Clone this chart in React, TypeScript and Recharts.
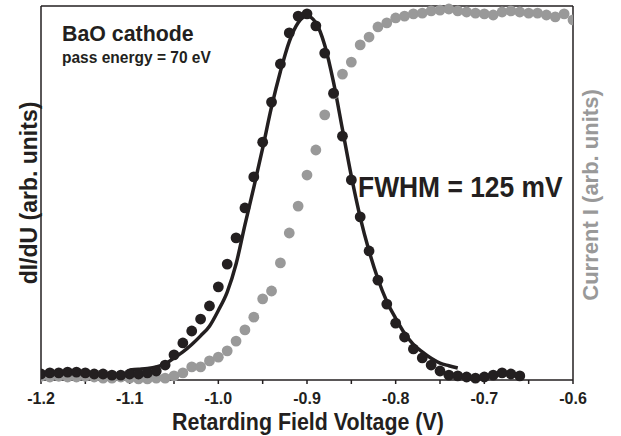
import {
  ComposedChart,
  Scatter,
  Line,
  XAxis,
  YAxis,
  ReferenceLine,
} from 'recharts';

const FONT = "'Liberation Sans', Arial, Helvetica, sans-serif";
const INK = '#231f20';
const GREY = '#999999';

// x ticks every 50 mV, labels only on the 100 mV ones
const voltTicks = [-1.2, -1.15, -1.1, -1.05, -1.0, -0.95, -0.9, -0.85, -0.8, -0.75, -0.7, -0.65, -0.6];

// dI/dU measured points (black)
const dIdUVolts = [
  -1.2, -1.19, -1.18, -1.17, -1.16, -1.15, -1.14, -1.13, -1.12, -1.11, -1.1, -1.09, -1.08, -1.07,
  -1.06, -1.05, -1.04, -1.03, -1.02, -1.01, -1.0, -0.99, -0.98, -0.97, -0.96, -0.95, -0.94, -0.93,
  -0.92, -0.91, -0.9, -0.89, -0.88, -0.87, -0.86, -0.85, -0.84, -0.83, -0.82, -0.81, -0.8, -0.79,
  -0.78, -0.77, -0.76, -0.75, -0.74, -0.73, -0.72, -0.71, -0.7, -0.69, -0.68, -0.67, -0.66,
];
const dIdUVals = [
  1.6, 1.9, 1.9, 2.1, 2.1, 1.9, 1.6, 1.6, 1.3, 1.3, 1.6, 1.6, 1.9, 2.4,
  4.0, 6.7, 9.9, 13.1, 16.3, 19.8, 24.9, 31.0, 38.0, 46.0, 54.3, 63.6, 74.3, 84.5,
  92.8, 97.3, 97.9, 94.7, 87.4, 76.7, 65.2, 53.5, 43.6, 34.5, 26.7, 20.3, 15.2, 11.5,
  8.3, 5.9, 4.0, 2.4, 1.3, 1.1, 0.8, 0.5, 0.8, 1.3, 1.9, 1.6, 1.1,
];

// current I (grey)
const currentVolts = [
  -1.2, -1.19, -1.18, -1.17, -1.16, -1.15, -1.14, -1.13, -1.12, -1.11, -1.1, -1.09, -1.08, -1.07,
  -1.06, -1.05, -1.04, -1.03, -1.02, -1.01, -1.0, -0.99, -0.98, -0.97, -0.96, -0.95, -0.94, -0.93,
  -0.92, -0.91, -0.9, -0.89, -0.88, -0.87, -0.86, -0.85, -0.84, -0.83, -0.82, -0.81, -0.8, -0.79,
  -0.78, -0.77, -0.76, -0.75, -0.74, -0.73, -0.72, -0.71, -0.7, -0.69, -0.68, -0.67, -0.66, -0.65,
  -0.64, -0.63, -0.62, -0.61, -0.6,
];
const currentVals = [
  1.0, 0.8, 1.0, 0.8, 0.8, 1.0, 0.8, 0.5, 0.5, 0.8, 0.5, 0.3, 0.3, 0.5,
  0.5, 1.1, 1.9, 3.5, 3.5, 5.1, 6.1, 7.8, 10.4, 13.4, 16.8, 21.7, 23.8, 31.3,
  39.3, 46.5, 54.8, 61.5, 70.9, 76.5, 81.8, 85.0, 89.6, 91.7, 94.4, 95.5, 96.8, 97.3,
  97.9, 98.1, 98.7, 98.9, 99.2, 98.7, 98.4, 98.1, 97.9, 97.6, 98.4, 98.7, 98.4, 98.1,
  98.1, 97.6, 97.1, 97.9, 96.3,
];

// gaussian fit
const fitVolts = [
  -1.1, -1.09, -1.08, -1.07, -1.06, -1.05, -1.04, -1.03, -1.02, -1.01, -1.0, -0.99, -0.98,
  -0.97, -0.96, -0.95, -0.94, -0.93, -0.92, -0.91, -0.9, -0.89, -0.88, -0.87, -0.86, -0.85,
  -0.84, -0.83, -0.82, -0.81, -0.8, -0.79, -0.78, -0.77, -0.76, -0.75, -0.74, -0.73,
];
const fitVals = [
  2.7, 2.9, 3.1, 3.5, 4.3, 5.9, 7.5, 9.5, 11.8, 14.4, 18.6, 23.5, 31.0,
  41.5, 51.5, 62.0, 73.0, 82.5, 90.5, 95.5, 97.3, 95.5, 89.5, 79.5, 67.0, 54.5,
  43.5, 34.5, 27.0, 21.0, 16.5, 12.5, 9.5, 7.5, 5.8, 4.5, 3.8, 3.2,
];

const zip = (xs: number[], ys: number[]) => xs.map((x, i) => ({ x, v: ys[i] }));

const dot = (fill: string) => (p: any) => <circle cx={p.cx} cy={p.cy} r={5.4} fill={fill} />;

const fmtTick = (v: number) =>
  Math.abs(v * 10 - Math.round(v * 10)) < 1e-6 ? v.toFixed(1) : '';

// overlay text, condensed a little with scaleX like the original's narrow face
const txt = {
  position: 'absolute' as const,
  fontFamily: FONT,
  fontWeight: 700,
  whiteSpace: 'nowrap' as const,
  lineHeight: 1,
  transformOrigin: 'left center',
};

export default function App() {
  return (
    <div style={{ position: 'absolute', left: 0, top: 0, width: 621, height: 436, background: '#fff' }}>
      <ComposedChart width={621} height={436} margin={{ top: 6, right: 0, bottom: 0, left: 0 }}>
        <XAxis
          dataKey="x"
          type="number"
          domain={[-1.2, -0.6]}
          ticks={voltTicks}
          tickFormatter={fmtTick}
          allowDataOverflow
          height={56}
          stroke={INK}
          strokeWidth={1.5}
          tickSize={4}
          tickMargin={9}
          tick={{ fill: INK, fontSize: 16, fontWeight: 700, fontFamily: FONT }}
        />
        <YAxis yAxisId="l" domain={[0, 100]} width={41} tick={false} stroke={INK} strokeWidth={1.5} />
        <YAxis yAxisId="r" orientation="right" domain={[0, 100]} width={48} tick={false} stroke={INK} strokeWidth={1.5} />
        <ReferenceLine yAxisId="l" y={100} stroke={INK} strokeWidth={1.5} />
        <Scatter yAxisId="r" data={zip(currentVolts, currentVals)} dataKey="v" shape={dot(GREY)} isAnimationActive={false} />
        <Scatter yAxisId="l" data={zip(dIdUVolts, dIdUVals)} dataKey="v" shape={dot(INK)} isAnimationActive={false} />
        <Line
          yAxisId="l"
          data={zip(fitVolts, fitVals)}
          dataKey="v"
          type="monotone"
          stroke={INK}
          strokeWidth={3.5}
          dot={false}
          isAnimationActive={false}
        />
      </ComposedChart>
      <div style={{ ...txt, left: 62, top: 23, fontSize: 22, color: INK, transform: 'scaleX(0.97)' }}>BaO cathode</div>
      <div style={{ ...txt, left: 62, top: 50, fontSize: 16, color: INK, transform: 'scaleX(0.97)' }}>pass energy = 70 eV</div>
      <div style={{ ...txt, left: 358, top: 172, fontSize: 30, color: INK, transform: 'scaleX(0.88)' }}>FWHM = 125 mV</div>
      <div
        style={{
          ...txt,
          left: 308,
          top: 422,
          fontSize: 23,
          color: INK,
          transformOrigin: 'center',
          transform: 'translate(-50%, -50%) scaleX(0.93)',
        }}
      >
        Retarding Field Voltage (V)
      </div>
      <div
        style={{
          ...txt,
          left: 29,
          top: 193,
          fontSize: 23,
          color: INK,
          transformOrigin: 'center',
          transform: 'translate(-50%, -50%) rotate(-90deg)',
        }}
      >
        dI/dU (arb. units)
      </div>
      <div
        style={{
          ...txt,
          left: 591,
          top: 195,
          fontSize: 22,
          color: GREY,
          transformOrigin: 'center',
          transform: 'translate(-50%, -50%) rotate(-90deg)',
        }}
      >
        Current I (arb. units)
      </div>
    </div>
  );
}
